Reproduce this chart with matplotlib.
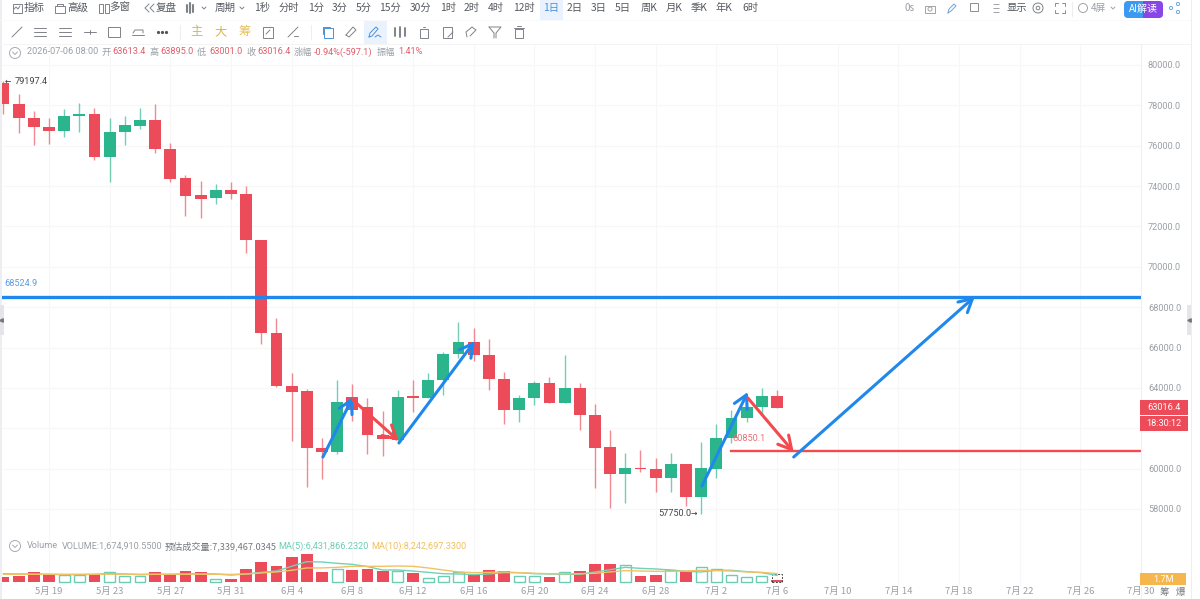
import matplotlib
matplotlib.use("Agg")
import matplotlib.pyplot as plt
from matplotlib.patches import Rectangle, FancyBboxPatch, Circle

# Daily candles starting 16 May
opens = [79100, 78084, 77390, 76944, 76712, 77489, 77571, 75457, 76663, 76993, 77274, 75853,
         74383, 73557, 73392, 73821, 73623, 71343, 66704, 64094, 63829, 61004, 60806, 63565,
         63053, 61682, 61418, 63582, 63516, 64391, 65680, 66291, 65614, 64457, 62904, 63499,
         64243, 63268, 63979, 62674, 61055, 59733, 60047, 59964, 59518, 60229, 58593, 59997,
         61534, 62525, 63070, 63613]
closes = [78067, 77357, 76910, 76712, 77489, 77571, 75457, 76679, 77010, 77274, 75820, 74350,
          73524, 73375, 73805, 73607, 71343, 66704, 64077, 63813, 61004, 60806, 63284, 62904,
          61665, 61451, 63565, 63516, 64391, 65696, 66291, 65614, 64441, 62904, 63499, 64242,
          63268, 63979, 62674, 61038, 59733, 60047, 59964, 59518, 60229, 58593, 60014, 61534,
          62525, 63070, 63615, 63016.4]
highs = [79197.4, 78546, 77737, 77357, 77803, 78133, 77852, 77357, 77489, 77869, 78050, 76151,
         74532, 74267, 74086, 74218, 74020, 71343, 67447, 64722, 63929, 61500, 64391, 64193,
         63483, 62855, 63896, 64391, 64722, 65762, 67266, 66952, 66407, 64771, 63631, 64342,
         64557, 65631, 64259, 63202, 61930, 60757, 60922, 60526, 60774, 60229, 61335, 62194,
         62921, 63483, 63979, 63895]
lows = [77571, 76613, 76018, 76101, 76448, 76679, 75292, 74185, 76035, 76811, 75622, 74185,
        72533, 72434, 73127, 73342, 70666, 66175, 64050, 61351, 59105, 59468, 60707, 62376,
        60724, 60641, 61350, 62822, 63516, 63648, 65465, 65349, 63879, 62227, 62293, 63152,
        63268, 63268, 61897, 59056, 58065, 58312, 59849, 58841, 58857, 58164, 57750, 59551,
        61253, 62293, 62707, 63001]

# Traded volume and its moving averages, in millions
volumes = [4.88, 5.53, 10.08, 6.83, 6.83, 6.83, 7.15, 9.43, 5.53, 5.53, 10.08, 7.48, 10.73,
           9.43, 3.25, 3.25, 12.35, 19.5, 15.93, 24.7, 26.98, 10.08, 13.0, 11.7, 12.35, 11.05,
           10.4, 8.78, 4.23, 6.18, 10.08, 7.15, 11.38, 10.4, 6.18, 5.53, 4.88, 10.08, 10.4,
           17.55, 17.55, 16.25, 5.53, 6.5, 12.03, 11.05, 14.3, 13.0, 7.15, 4.88, 5.53, 1.67]
ma5 = [8.1, 7.8, 7.8, 7.5, 7.2, 7.2, 7.5, 8.1, 7.8, 7.2, 7.5, 7.5, 7.8, 8.1, 7.8, 6.8, 7.8,
       9.4, 10.7, 15.3, 19.8, 19.5, 18.2, 17.2, 15.0, 11.7, 11.7, 10.7, 9.4, 8.1, 7.8, 7.2,
       7.8, 9.1, 9.1, 8.1, 7.8, 7.5, 7.5, 9.8, 12.0, 14.3, 13.3, 12.7, 11.7, 10.4, 9.8, 11.4,
       11.4, 10.1, 9.1, 6.43]
ma10 = [7.5, 7.5, 7.5, 7.5, 7.5, 7.5, 7.5, 7.6, 7.6, 7.5, 7.5, 7.5, 7.6, 7.6, 7.5, 7.4, 7.8,
        8.8, 9.8, 11.4, 13.7, 13.7, 14.3, 15.3, 15.3, 15.3, 15.6, 15.3, 13.7, 11.7, 9.8, 9.1,
        9.4, 9.8, 9.1, 8.5, 8.1, 8.1, 8.1, 8.5, 9.8, 11.1, 10.7, 10.4, 10.4, 10.7, 11.4, 11.1,
        10.7, 9.8, 9.4, 8.24]
estimated_volume = 7.34

date_labels = ["5月 19", "5月 23", "5月 27", "5月 31", "6月 4", "6月 8", "6月 12", "6月 16",
               "6月 20", "6月 24", "6月 28", "7月 2", "7月 6", "7月 10", "7月 14", "7月 18",
               "7月 22", "7月 26", "7月 30"]
date_ticks = [3, 7, 11, 15, 19, 23, 27, 31, 35, 39, 43, 47, 51, 55, 59, 63, 67, 71, 75]
price_ticks = [58000, 60000, 62000, 64000, 66000, 68000, 70000, 72000, 74000, 76000, 78000, 80000]

resistance = 68524.9
support = 60850.1
support_start = 48.0
# Hand-drawn trend arrows: (start index, start price, end index, end price, colour name)
trend_arrows = [
    (21.06, 60576, 23.04, 63549, "blue"),
    (23.04, 63400, 26.07, 61369, "red"),
    (26.07, 61270, 31.08, 66324, "blue"),
    (46.05, 59139, 49.08, 63797, "blue"),
    (49.08, 63500, 52.10, 60824, "red"),
    (52.10, 60576, 64.04, 68524, "blue"),
]

RED = "#EC4C5A"
GREEN = "#2BB58D"
BLUE = "#2088EC"
ARROW_RED = "#F24A4E"
GREY = "#9AA0A6"
DARK = "#55595F"
CJK = ["Noto Sans CJK SC", "DejaVu Sans"]
plt.rcParams["font.family"] = CJK

W, H = 1200, 599
fig = plt.figure(figsize=(W / 100, H / 100), dpi=100)


def px_axes(x0, y0, x1, y1, **kw):
    return fig.add_axes([x0 / W, 1 - y1 / H, (x1 - x0) / W, (y1 - y0) / H], **kw)


def price_at(y):
    return 80000 - (y - 65) * 49.55


def index_at(x):
    return (x - 3.5) / 15.17


index = list(range(len(opens)))

# Price panel
ax = px_axes(2, 44, 1141, 536)
ax.set_xlim(index_at(2), index_at(1141))
ax.set_ylim(price_at(536), price_at(44))
for s in ax.spines.values():
    s.set_visible(False)
ax.set_xticks(date_ticks)
ax.tick_params(axis="x", length=0, labelbottom=False)
ax.yaxis.tick_right()
ax.set_yticks(price_ticks)
# The 62000 label sits underneath the countdown tag, so it is left blank
ax.set_yticklabels(["" if p == 62000 else f"{p:.1f}" for p in price_ticks],
                   family="Roboto", fontsize=6.6, color=GREY)
ax.tick_params(axis="y", length=0, pad=5)
ax.grid(True, color="#F7F7F8", lw=0.8)
ax.set_axisbelow(True)

colors = [GREEN if c >= o else RED for o, c in zip(opens, closes)]
ax.vlines(index, lows, highs, colors=colors, lw=1.0, alpha=0.65, zorder=2)
ax.bar(index, [abs(c - o) for o, c in zip(opens, closes)],
       bottom=[min(o, c) for o, c in zip(opens, closes)],
       width=0.79, color=colors, zorder=3)

ax.axhline(resistance, color=BLUE, lw=2.4, zorder=5)
ax.plot([support_start, index_at(1141)], [support, support], color=ARROW_RED, lw=1.7, zorder=4)
palette = {"blue": BLUE, "red": ARROW_RED}
for x0, p0, x1, p1, name in trend_arrows:
    ax.annotate("", xy=(x1, p1), xytext=(x0, p0), zorder=6,
                arrowprops=dict(arrowstyle="->,head_length=0.55,head_width=0.3", lw=2.2,
                                color=palette[name], shrinkA=0, shrinkB=0, mutation_scale=17))

ax.text(index_at(4), resistance + 640, f"{resistance:.1f}", family="Roboto", fontsize=6.6,
        color="#5E9BDD", va="center")
ax.text(index_at(733), support + 640, f"{support:.1f}", family="Roboto", fontsize=6.6,
        color="#E8707A", va="center")

# Volume panel
vax = px_axes(2, 536, 1141, 586)
vax.set_xlim(index_at(2), index_at(1141))
vax.set_ylim(-4 / 1.026, 46 / 1.026)
for s in vax.spines.values():
    s.set_visible(False)
vax.set_yticks([])
vax.set_xticks(date_ticks)
vax.set_xticklabels(date_labels, fontsize=6.8, color=GREY)
vax.tick_params(axis="x", length=0, pad=1)
vax.grid(True, axis="x", color="#F7F7F8", lw=0.8)
vax.set_axisbelow(True)
rising = [c == GREEN for c in colors]
vax.bar([i for i, r in zip(index, rising) if not r], [v for v, r in zip(volumes, rising) if not r],
        width=0.79, color=RED, zorder=2)
vax.bar([i for i, r in zip(index, rising) if r], [v for v, r in zip(volumes, rising) if r],
        width=0.72, facecolor="white", edgecolor="#6CCDB3", lw=1.0, zorder=2)
vax.bar([index[-1]], [estimated_volume], width=0.72, facecolor="none", edgecolor="#444444",
        lw=0.7, ls=(0, (2, 1.5)), zorder=3)
vax.plot(index, ma5, color="#70D2B8", lw=1.0, zorder=4)
vax.plot(index, ma10, color="#F1C264", lw=1.0, zorder=4)

# Interface chrome drawn in pixel coordinates
ui = px_axes(0, 0, W, H)
ui.set_xlim(0, W)
ui.set_ylim(H, 0)
ui.axis("off")
ui.patch.set_alpha(0)


def label(x, y, s, color=DARK, size=7.4, ha="center", family=None, **kw):
    ui.text(x, y, s, color=color, fontsize=size, ha=ha, va="center", family=family or CJK, **kw)


def stroke(cx, cy, paths, color="#7E8389", lw=0.7):
    for path in paths:
        ui.plot([cx + p[0] for p in path], [cy + p[1] for p in path], color=color, lw=lw,
                solid_capstyle="round", zorder=8)


def box(cx, cy, w, h, color="#7E8389", lw=0.7):
    ui.add_patch(Rectangle((cx - w / 2, cy - h / 2), w, h, fill=False, ec=color, lw=lw, zorder=8))


def ring(cx, cy, r, color="#7E8389", lw=0.7):
    ui.add_patch(Circle((cx, cy), r, fill=False, ec=color, lw=lw, zorder=8))


# Panel edges and separators
ui.plot([0, 1190], [20, 20], color="#F8F8F8", lw=0.6)
ui.plot([0, 1190], [44, 44], color="#F3F3F3", lw=0.6)
ui.plot([1141, 1141], [44, 599], color="#F0F0F2", lw=0.8)
ui.plot([1190.5, 1190.5], [0, 599], color="#EDEEF0", lw=0.8)
ui.add_patch(Rectangle((0, 0), 1.5, H, color="#EDEEF1", lw=0))
ui.add_patch(Rectangle((0, 305), 4, 30, color="#E3E5E8", lw=0))
ui.add_patch(Rectangle((1187, 305), 4, 30, color="#E3E5E8", lw=0))
ui.plot([1], [320], marker="<", ms=2.5, color="#777777")
ui.plot([1189], [320], marker="<", ms=2.5, color="#777777")

# Top toolbar
for x, s in [(34, "指标"), (78, "高级"), (120, "多窗"), (166, "复盘"), (225, "周期")]:
    label(x, 8, s, size=7.6)
for x, s in [(262, "1秒"), (289, "分时"), (316, "1分"), (340, "3分"), (364, "5分"), (390, "15分"),
             (421, "30分"), (448, "1时"), (472, "2时"), (496, "4时"), (524, "12时"), (575, "2日"),
             (599, "3日"), (623, "5日"), (649, "周K"), (674, "月K"), (699, "季K"), (724, "年K"),
             (750, "6时")]:
    label(x, 8, s, size=7.4)
ui.add_patch(Rectangle((540, 0), 23, 20, color="#EAF3FD", lw=0))
label(551, 8, "1日", color="#4A90D9", size=7.4)
box(17, 8, 9, 9)
stroke(17, 8, [[(-3, 1), (-1, -1), (1, 1), (3, -2)]])
box(60, 9, 10, 7)
stroke(60, 6, [[(-3, 0), (-3, -2), (3, -2), (3, 0)]])
box(101, 8, 4, 9)
box(107, 8, 4, 9)
stroke(150, 8, [[(-1, -4), (-5, 0), (-1, 4)], [(4, -4), (0, 0), (4, 4)]])
stroke(190, 8, [[(-3, -3), (-3, 4)], [(0, -5), (0, 5)], [(3, -3), (3, 4)]], lw=1.5)
stroke(204, 8, [[(-2, -1), (0, 1), (2, -1)]])
stroke(242, 8, [[(-2, -1), (0, 1), (2, -1)]])

# Drawing toolbar
stroke(17, 32, [[(-5, 5), (5, -5)]])
stroke(40, 32, [[(-6, -4), (6, -4)], [(-6, 0), (6, 0)], [(-6, 4), (6, 4)]])
stroke(65, 32, [[(-6, -4), (6, -4)], [(-6, 0), (6, 0)], [(-6, 4), (6, 4)]])
stroke(90, 32, [[(-6, 0), (6, 0)], [(0, -2), (0, 2)]])
box(114, 32, 12, 10)
stroke(138, 32, [[(-6, 3), (6, 3)], [(-5, 1), (-3, -2), (5, -2), (5, 1)]])
ui.plot([158, 162, 166], [32, 32, 32], ls="", marker="o", ms=1.3, color="#555555")
ui.plot([180, 180], [25, 39], color="#EEEEEE", lw=0.8)
for x, s, c in [(196, "主", "#D9B64E"), (221, "大", "#D9B64E"), (245, "筹", "#E7BE5A")]:
    label(x, 32, s, color=c, size=8.8)
box(268, 32, 10, 11)
stroke(268, 32, [[(-2, 2), (2, -2)]])
stroke(293, 32, [[(-5, 5), (5, -5)], [(1, 4), (5, 4)]])
ui.plot([311, 311], [25, 39], color="#EEEEEE", lw=0.8)
box(328, 33, 9, 10, color="#4A90D9")
stroke(326, 31, [[(-3, 3), (-3, -4), (4, -4)]], color="#4A90D9")
stroke(351, 32, [[(-5, 3), (2, -5), (5, -2), (-2, 5), (-5, 3)]])
ui.add_patch(Rectangle((364, 21), 23, 23, color="#EAF3FD", lw=0))
stroke(375, 32, [[(-6, 5), (-5, 1), (1, -5), (3, -3), (-3, 4), (-6, 5)], [(0, 5), (3, 3), (6, 5)]],
       color="#4A90D9")
stroke(400, 32, [[(-5, -4), (-5, 4)], [(0, -5), (0, 5)], [(5, -4), (5, 4)]], lw=1.4)
box(424, 33, 8, 9)
stroke(424, 27, [[(-1, 0), (1, 0)]])
box(447, 32, 9, 11)
stroke(450, 34, [[(-2, 3), (3, -2)]])
stroke(471, 32, [[(-4, 5), (-5, 0), (1, -5), (5, -2), (-1, 4)]])
stroke(495, 32, [[(-6, -5), (6, -5), (1, 1), (1, 6)], [(-6, -5), (-1, 1), (-1, 6)]])
box(519, 33, 8, 9)
stroke(519, 28, [[(-5, 0), (5, 0)], [(-2, -2), (2, -2)]])

# Right side of the toolbar
label(910, 8, "0s", color=GREY, size=7.2)
box(930, 9, 10, 7, color="#A0A4A8")
ring(930, 9, 2, color="#A0A4A8")
stroke(952, 8, [[(-4, 5), (-3, 1), (2, -4), (4, -2), (-1, 3), (-4, 5)]], color="#6FA5DC")
box(974, 7, 8, 8, color="#8A8E93")
ui.plot([996, 996, 996], [4, 8, 12], ls="", marker="_", ms=5, color="#A0A4A8", mew=0.7)
label(1017, 8, "显示", size=7.4)
ring(1038, 8, 5)
ring(1038, 8, 1.8)
stroke(1060, 8, [[(-5, -2), (-5, -5), (-2, -5)], [(2, -5), (5, -5), (5, -2)],
                 [(-5, 2), (-5, 5), (-2, 5)], [(2, 5), (5, 5), (5, 2)]], color="#8A8E93")
ui.plot([1072, 1072], [2, 16], color="#EEEEEE", lw=0.8)
ring(1083, 8, 4.5, color="#A0A4A8")
label(1098, 8, "4屏", color=GREY, size=7)
stroke(1113, 8, [[(-2, -1), (0, 1), (2, -1)]], color="#A0A4A8")
grad = ui.imshow([[0, 1]], extent=(1124, 1163, 18, 1), cmap=matplotlib.colors.LinearSegmentedColormap.from_list(
    "btn", ["#3B9AF0", "#8A45E8"]), aspect="auto", zorder=7)
grad.set_clip_path(FancyBboxPatch((1124, 1), 39, 17, boxstyle="round,pad=0,rounding_size=4",
                                  transform=ui.transData))
ui.set_xlim(0, W)
ui.set_ylim(H, 0)
label(1143, 9, "AI解读", color="white", size=7.2, zorder=9)
ring(1171, 8, 1.6, color="#6FA5DC")
ring(1178, 4, 1.6, color="#6FA5DC")
ring(1178, 12, 1.6, color="#6FA5DC")

# Quote line
ring(15, 53, 5.5, color="#A8ABB0")
stroke(15, 53, [[(-2.5, -1), (0, 1.5), (2.5, -1)]], color="#A8ABB0")
HEAD_RED = "#DF5F6B"
label(27, 52, "2026-07-06 08:00", color=GREY, size=6.6, ha="left", family="Roboto")
for x, s in [(102, "开"), (149, "高"), (197, "低"), (246, "收"), (294, "涨幅"), (377, "振幅")]:
    label(x, 52, s, color=GREY, size=6.6, ha="left")
for x, s in [(112, "63613.4"), (160, "63895.0"), (209, "63001.0"), (257, "63016.4"),
             (314, "-0.94%(-597.1)"), (398, "1.41%")]:
    label(x, 52, s, color=HEAD_RED, size=6.6, ha="left", family="Roboto")

# Volume legend
ring(15, 546, 5.5, color="#A8ABB0")
stroke(15, 546, [[(-2.5, -1), (0, 1.5), (2.5, -1)]], color="#A8ABB0")
label(27, 546, "Volume", color=GREY, size=6.6, ha="left", family="Roboto")
label(62, 546, "VOLUME:1,674,910.5500", color=GREY, size=6.6, ha="left", family="Roboto")
label(165, 546, "预估成交量:7,339,467.0345", color="#74787D", size=6.6, ha="left")
label(278, 546, "MA(5):6,431,866.2320", color="#6CCDB3", size=6.6, ha="left", family="Roboto")
label(371, 546, "MA(10):8,242,697.3300", color="#EFC05E", size=6.6, ha="left", family="Roboto")

# Extreme markers
label(5, 81, "←", color="#333333", size=5.5, ha="left", family="DejaVu Sans")
label(15, 81, "79197.4", color="#444444", size=6.6, ha="left", family="Roboto")
label(658, 513, "57750.0", color="#444444", size=6.6, ha="left", family="Roboto")
label(691, 513, "→", color="#333333", size=5.5, ha="left", family="DejaVu Sans")

# Price and volume tags on the axis
ui.add_patch(Rectangle((1140, 400), 48, 15, color=RED, lw=0, zorder=8))
ui.add_patch(Rectangle((1140, 416), 48, 15, color=RED, lw=0, zorder=8))
label(1164, 407.5, "63016.4", color="white", size=6.6, family="Roboto", zorder=9)
label(1164, 423.5, "18:30:12", color="white", size=6.6, family="Roboto", zorder=9)
ui.add_patch(Rectangle((1140, 573), 46, 12, color="#F5B64E", lw=0, zorder=8))
label(1164, 579, "1.7M", color="white", size=6.6, family="Roboto", zorder=9)
label(1164, 592, "筹", color="#777B80", size=6.8)
label(1180, 592, "爆", color="#777B80", size=6.8)

fig.savefig("out.png", dpi=100)
